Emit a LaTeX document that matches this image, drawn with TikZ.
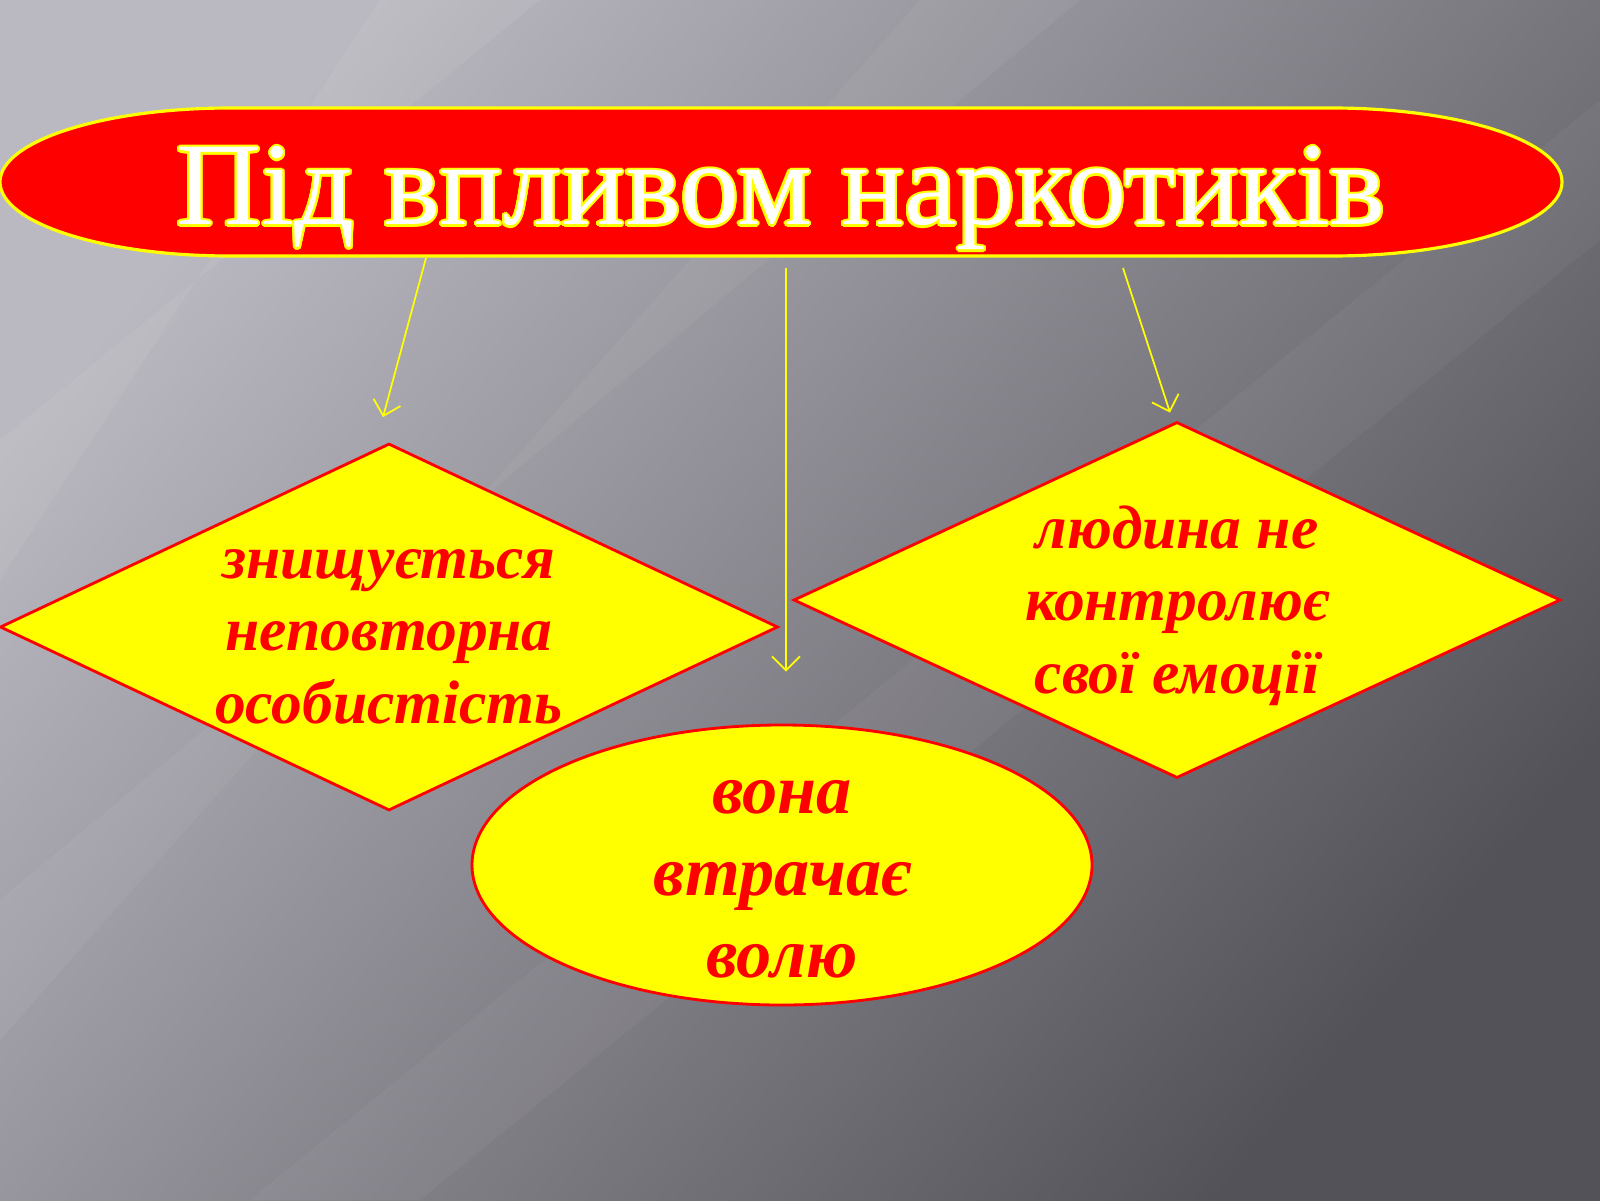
\documentclass[tikz,border=0pt]{standalone}
\usepackage{fontspec}
\setmainfont{Liberation Serif}
\usepackage{xcolor}
\usepackage{contour}
\usepackage{tikz}
\usetikzlibrary{shapes.geometric, arrows.meta, positioning, calc}

\definecolor{bglight}{RGB}{186,184,192}
\definecolor{bgdark}{RGB}{84,82,89}
\definecolor{slidered}{RGB}{255,0,0}
\definecolor{slideyellow}{RGB}{255,255,0}
\contourlength{0.6pt}

\tikzset{
	titleoval/.style={draw=slideyellow, line width=0.9pt, fill=slidered},
	titletext/.style={anchor=base, inner sep=0pt, text=white, font=\fontsize{33.6}{36}\selectfont},
	factor/.style={diamond, draw=slidered, line width=0.8pt, fill=slideyellow, inner sep=0pt},
	resultoval/.style={ellipse, draw=slidered, line width=0.8pt, fill=slideyellow, inner sep=0pt},
	factortext/.style={anchor=base, inner sep=0pt, align=center, text=slidered,
		font=\bfseries\itshape\fontsize{17.5}{20.5}\selectfont},
	resulttext/.style={anchor=base, inner sep=0pt, align=center, text=slidered,
		font=\bfseries\itshape\fontsize{20}{23.3}\selectfont},
	pointer/.style={draw=slideyellow, line width=0.5pt, -{Straight Barb[length=1.4mm,width=2.8mm]}}
}

\begin{document}
\begin{tikzpicture}
		% background
		\shade[top color=bglight, bottom color=bgdark, shading angle=50] (0,0) rectangle (16,12);
		\fill[white, fill opacity=0.07] (0,6.2) -- (0,7.6) -- (5.4,12) -- (3.8,12) -- cycle;
		\fill[white, fill opacity=0.05] (0,1.6) -- (0,3.0) -- (10.8,12) -- (9.2,12) -- cycle;
		\fill[white, fill opacity=0.04] (2.5,0) -- (4.2,0) -- (16,9.6) -- (16,11.0) -- cycle;
		\useasboundingbox (0,0) rectangle (16,12);

		% title
		\coordinate (title) at (7.81,10.18);
		\path[titleoval] ($(title)+(-5.51,0.74)$) -- ($(title)+(5.51,0.74)$)
			arc[start angle=90, end angle=-90, x radius=2.3cm, y radius=0.74cm]
			-- ($(title)+(-5.51,-0.74)$)
			arc[start angle=270, end angle=90, x radius=2.3cm, y radius=0.74cm] -- cycle;
		\node[titletext] (titletxt) at ($(title)+(0,-0.43)$)
			{\contour{slideyellow}{Під впливом наркотиків}};

		% shapes
		\node[factor, minimum width=7.78cm, minimum height=3.67cm] (persona) at (3.89,5.73) {};
		\node[factor, minimum width=7.67cm, minimum height=3.56cm] (control) at (11.77,6.00) {};
		\node[resultoval, minimum width=6.20cm, minimum height=2.80cm] (will) at (7.82,3.35) {};

		% texts (base = last line)
		\node[factortext] (personatxt) at ($(persona.center)+(0,-0.96)$)
			{знищується\\неповторна\\особистість};
		\node[factortext] (controltxt) at ($(control.center)+(0,-0.93)$)
			{людина не\\контролює\\свої емоції};
		\node[resulttext] (willtxt) at ($(will.center)+(0,-1.12)$)
			{вона\\втрачає\\волю};

		% arrows
		\coordinate (p1) at ($(persona.north)+(-0.06,0.25)$);
		\coordinate (p2) at ($(will.north)+(0.04,0.52)$);
		\coordinate (p3) at ($(control.north)+(-0.07,0.08)$);
		\path[pointer] ($(title)+(-3.55,-0.76)$) -- (p1);
		\path[pointer] ($(title)+(0.05,-0.86)$) -- (p2);
		\path[pointer] ($(title)+(3.42,-0.86)$) -- (p3);
	\end{tikzpicture}
\end{document}
